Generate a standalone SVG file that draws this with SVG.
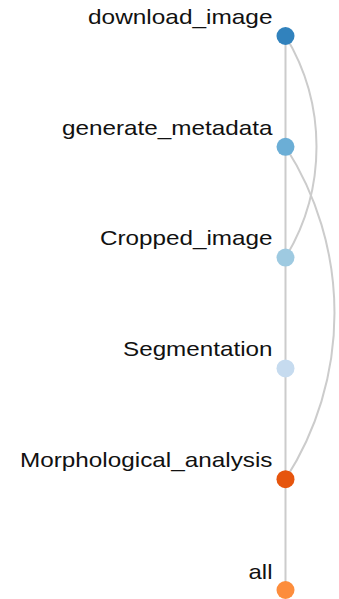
<svg xmlns="http://www.w3.org/2000/svg" width="339" height="599" viewBox="0 0 339 599">
<style>
.link{fill:none;stroke:#cccccc;stroke-width:2}
.label{font-family:"Liberation Sans",Arial,Helvetica,sans-serif;font-size:21px;fill:#111;text-anchor:end}
</style>
<rect width="339" height="599" fill="#ffffff"/>
<g id="connectors">
<path class="link" d="M285.5,36V590"/>
<path class="link" d="M285.5,36A213.5,213.5 0 0 1 285.5,257.6"/>
<path class="link" d="M285.5,146.8A306.4,306.4 0 0 1 285.5,479.2"/>
</g>
<g id="node-download_image">
<circle cx="285.5" cy="36" r="9" fill="#3182bd"/>
<text class="label" x="272.5" y="23.5" textLength="184.5" lengthAdjust="spacingAndGlyphs">download_image</text>
</g>
<g id="node-generate_metadata">
<circle cx="285.5" cy="146.8" r="9" fill="#6baed6"/>
<text class="label" x="272.5" y="134.5" textLength="210.5" lengthAdjust="spacingAndGlyphs">generate_metadata</text>
</g>
<g id="node-Cropped_image">
<circle cx="285.5" cy="257.6" r="9" fill="#9ecae1"/>
<text class="label" x="272.5" y="245.3" textLength="172.5" lengthAdjust="spacingAndGlyphs">Cropped_image</text>
</g>
<g id="node-Segmentation">
<circle cx="285.5" cy="368.4" r="9" fill="#c6dbef"/>
<text class="label" x="272.5" y="356.1" textLength="149.5" lengthAdjust="spacingAndGlyphs">Segmentation</text>
</g>
<g id="node-Morphological_analysis">
<circle cx="285.5" cy="479.2" r="9" fill="#e6550d"/>
<text class="label" x="272.5" y="466.8" textLength="252.5" lengthAdjust="spacingAndGlyphs">Morphological_analysis</text>
</g>
<g id="node-all">
<circle cx="285.5" cy="590" r="9" fill="#fd8d3c"/>
<text class="label" x="272.5" y="578.5" textLength="24" lengthAdjust="spacingAndGlyphs">all</text>
</g>
</svg>
